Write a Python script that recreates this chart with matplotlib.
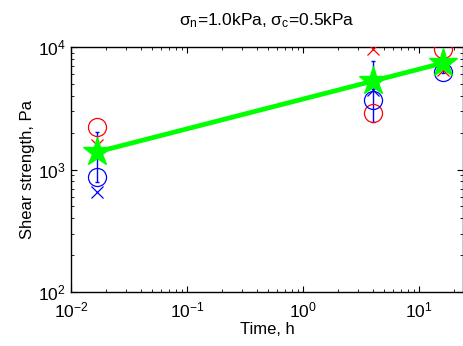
import matplotlib
matplotlib.use('Agg')
import matplotlib.pyplot as plt

plt.rcParams['font.family'] = ['Liberation Sans', 'DejaVu Sans']
plt.rcParams['mathtext.fontset'] = 'custom'
plt.rcParams['mathtext.rm'] = 'Liberation Sans'
plt.rcParams['mathtext.it'] = 'Liberation Sans'
plt.rcParams['mathtext.default'] = 'regular'

# time of measurement, h
times = [1 / 60, 4, 16]

# individual samples
red_circle = [2235, 2877, 9700]
blue_circle = [873, 3690, 6280]
red_x = [1600, 9580, 6500]
blue_x = [659, 4460, 6960]

# mean (power-law fit) and spread
mean_strength = [1390, 5270, 7400]
err_low = [600, 2815, 1300]
err_high = [625, 2460, 1300]

fig = plt.figure(figsize=(4.64, 3.46), dpi=100)
ax = fig.add_axes([0.153, 0.156, 0.845, 0.708])

ax.errorbar(times, mean_strength, yerr=[err_low, err_high], fmt='none',
            ecolor='blue', elinewidth=1, capsize=1.5, capthick=1, zorder=2)
ax.plot(times, red_circle, 'o', mfc='none', mec='red', ms=13, mew=0.9, zorder=3)
ax.plot(times, blue_circle, 'o', mfc='none', mec='blue', ms=13, mew=0.9, zorder=3)
ax.plot(times, red_x, 'x', color='red', ms=9, mew=0.9, zorder=3)
ax.plot(times, blue_x, 'x', color='blue', ms=9, mew=0.9, zorder=3)
ax.plot(times, mean_strength, '-*', color=(0, 1, 0), lw=3.4, ms=21,
        mew=1, zorder=4)

ax.set_xscale('log')
ax.set_yscale('log')
ax.set_xlim(1e-2, 24)
ax.set_ylim(1e2, 1e4)

ax.tick_params(which='both', direction='in', top=True, right=True,
               labelsize=12.5)
ax.tick_params(axis='x', pad=6)
ax.tick_params(axis='y', pad=4)
ax.tick_params(which='major', length=4)
ax.tick_params(which='minor', length=2)
for s in ax.spines.values():
    s.set_linewidth(1)

ax.set_xlabel('Time, h', fontsize=12, labelpad=1)
ax.set_ylabel('Shear strength, Pa', fontsize=12, labelpad=2)
ax.set_title(r'$\sigma_n$=1.0kPa, $\sigma_c$=0.5kPa', fontsize=12.5, pad=16)

fig.savefig('out.png', dpi=100)
